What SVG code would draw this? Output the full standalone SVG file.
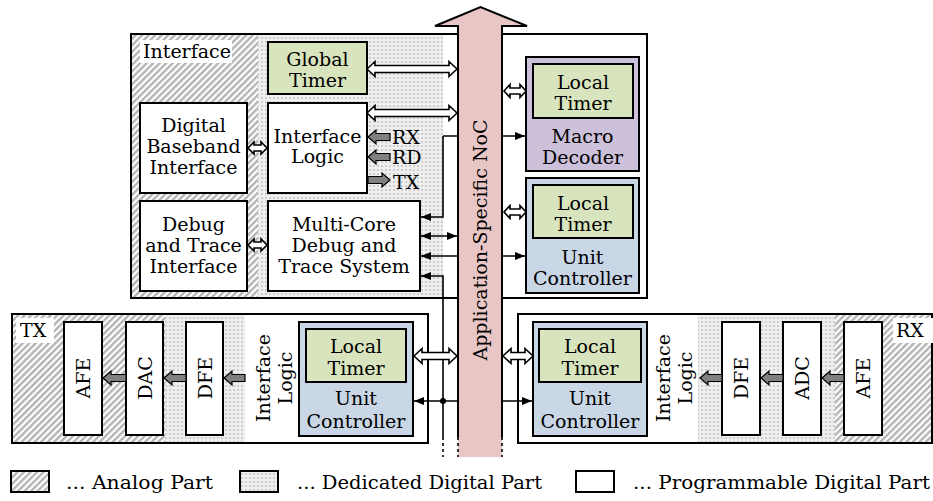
<svg xmlns="http://www.w3.org/2000/svg" width="933" height="501" viewBox="0 0 933 501">
  <style>
    .t { font-family: "DejaVu Serif", "Liberation Serif", serif; font-size: 19px; fill: #000; }
    .c { text-anchor: middle; }
    .box { stroke: #000; stroke-width: 2; }
    .white { fill: #fff; }
    .green { fill: #d7e4bd; }
    .violet { fill: #ccc0da; }
    .blue { fill: #c8d6e6; }
    .hatch { fill: url(#hatch); }
    .dots { fill: url(#dots); }
    .wire { fill: none; stroke: #000; stroke-width: 1.6; }
    .hollow { fill: #fff; stroke: #000; stroke-width: 1.6; stroke-linejoin: miter; }
    .grey { fill: #808080; stroke: #000; stroke-width: 1.2; }
    .dash { fill: none; stroke: #000; stroke-width: 1.6; stroke-dasharray: 3 3; }
  </style>
  <defs>
    <!-- analog part: diagonal grey stripes -->
    <pattern id="hatch" width="4.6" height="4.6" patternUnits="userSpaceOnUse" patternTransform="rotate(45)">
      <rect width="4.6" height="4.6" fill="#fff"/>
      <rect width="2.4" height="4.6" fill="#b4b4b4"/>
    </pattern>
    <!-- dedicated digital part: fine dot grid -->
    <pattern id="dots" width="4" height="4" patternUnits="userSpaceOnUse">
      <rect width="4" height="4" fill="#efefef"/>
      <circle cx="2" cy="2" r="1.1" fill="#c6c6c6"/>
    </pattern>
    <marker id="ah" viewBox="0 0 10 8" refX="10" refY="4" markerWidth="10" markerHeight="8" markerUnits="userSpaceOnUse" orient="auto-start-reverse">
      <path d="M0,0 L10,4 L0,8 Z" fill="#000"/>
    </marker>
  </defs>

  <rect width="933" height="501" fill="#fff"/>

  <!-- Interface block (spans behind the NoC) -->
  <g id="interface">
    <rect x="131" y="34" width="516" height="264" class="white"/>
    <rect x="132" y="35" width="126" height="262" class="hatch"/>
    <rect x="258" y="35" width="185" height="262" class="dots"/>
    <rect x="131" y="34" width="516" height="264" fill="none" class="box"/>
    <rect x="140" y="40" width="92" height="23" class="white"/>
    <text x="143" y="58" class="t">Interface</text>
  </g>

  <g id="global-timer">
    <rect x="268" y="42" width="99" height="52" class="green box"/>
    <text x="317.5" y="66" class="t c">Global</text>
    <text x="317.5" y="87" class="t c">Timer</text>
  </g>

  <g id="interface-logic">
    <rect x="268" y="103" width="99" height="90" class="white box"/>
    <text x="317.5" y="143" class="t c">Interface</text>
    <text x="317.5" y="163" class="t c">Logic</text>
  </g>

  <g id="digital-baseband-interface">
    <rect x="140" y="103" width="107" height="90" class="white box"/>
    <text x="193.5" y="132" class="t c">Digital</text>
    <text x="193.5" y="153" class="t c">Baseband</text>
    <text x="193.5" y="174" class="t c">Interface</text>
  </g>

  <g id="debug-trace-interface">
    <rect x="140" y="201" width="107" height="90" class="white box"/>
    <text x="193.5" y="231" class="t c">Debug</text>
    <text x="193.5" y="252" class="t c">and Trace</text>
    <text x="193.5" y="273" class="t c">Interface</text>
  </g>

  <g id="debug-trace-system">
    <rect x="268" y="201" width="152" height="90" class="white box"/>
    <text x="344" y="231" class="t c">Multi-Core</text>
    <text x="344" y="252" class="t c">Debug and</text>
    <text x="344" y="273" class="t c">Trace System</text>
  </g>

  <g id="macro-decoder">
    <rect x="526" y="57" width="113" height="114" class="violet box"/>
    <rect x="533" y="64" width="100" height="54" class="green box"/>
    <text x="583" y="89" class="t c">Local</text>
    <text x="583" y="110" class="t c">Timer</text>
    <text x="582.5" y="143" class="t c">Macro</text>
    <text x="582.5" y="164" class="t c">Decoder</text>
  </g>

  <g id="unit-controller-top">
    <rect x="526" y="178" width="113" height="115" class="blue box"/>
    <rect x="533" y="185" width="100" height="53" class="green box"/>
    <text x="583" y="210" class="t c">Local</text>
    <text x="583" y="231" class="t c">Timer</text>
    <text x="582.5" y="264" class="t c">Unit</text>
    <text x="582.5" y="285" class="t c">Controller</text>
  </g>

  <!-- TX chain -->
  <g id="tx">
    <rect x="12" y="314" width="416" height="129" class="white"/>
    <rect x="13" y="315" width="152" height="127" class="hatch"/>
    <rect x="165" y="315" width="80" height="127" class="dots"/>
    <rect x="12" y="314" width="416" height="129" fill="none" class="box"/>
    <rect x="16" y="318" width="38" height="25" class="white"/>
    <text x="20" y="337" class="t">TX</text>
    <text transform="translate(270,378) rotate(-90)" class="t c">Interface</text>
    <text transform="translate(292,378) rotate(-90)" class="t c">Logic</text>
  </g>
  <g id="tx-afe">
    <rect x="64" y="322" width="38" height="113" class="white box"/>
    <text transform="translate(90,378) rotate(-90)" class="t c">AFE</text>
  </g>
  <g id="tx-dac">
    <rect x="126" y="322" width="37" height="113" class="white box"/>
    <text transform="translate(151.5,378) rotate(-90)" class="t c">DAC</text>
  </g>
  <g id="tx-dfe">
    <rect x="186" y="322" width="37" height="113" class="white box"/>
    <text transform="translate(211.5,378) rotate(-90)" class="t c">DFE</text>
  </g>
  <g id="tx-unit-controller">
    <rect x="299" y="322" width="114" height="114" class="blue box"/>
    <rect x="306" y="329" width="100" height="53" class="green box"/>
    <text x="356" y="353" class="t c">Local</text>
    <text x="356" y="375" class="t c">Timer</text>
    <text x="356" y="405" class="t c">Unit</text>
    <text x="356" y="428" class="t c">Controller</text>
  </g>

  <!-- RX chain -->
  <g id="rx">
    <rect x="518" y="314" width="414" height="129" class="white"/>
    <rect x="698" y="315" width="137" height="127" class="dots"/>
    <rect x="835" y="315" width="97" height="127" class="hatch"/>
    <rect x="518" y="314" width="414" height="129" fill="none" class="box"/>
    <rect x="893" y="318" width="40" height="25" class="white"/>
    <text x="896" y="337" class="t">RX</text>
    <text transform="translate(670,378) rotate(-90)" class="t c">Interface</text>
    <text transform="translate(692,378) rotate(-90)" class="t c">Logic</text>
  </g>
  <g id="rx-dfe">
    <rect x="722" y="322" width="38" height="113" class="white box"/>
    <text transform="translate(748,378) rotate(-90)" class="t c">DFE</text>
  </g>
  <g id="rx-adc">
    <rect x="783" y="322" width="38" height="113" class="white box"/>
    <text transform="translate(809,378) rotate(-90)" class="t c">ADC</text>
  </g>
  <g id="rx-afe">
    <rect x="844" y="322" width="38" height="113" class="white box"/>
    <text transform="translate(870,378) rotate(-90)" class="t c">AFE</text>
  </g>
  <g id="rx-unit-controller">
    <rect x="533" y="322" width="114" height="114" class="blue box"/>
    <rect x="539" y="329" width="102" height="53" class="green box"/>
    <text x="590" y="353" class="t c">Local</text>
    <text x="590" y="375" class="t c">Timer</text>
    <text x="590" y="405" class="t c">Unit</text>
    <text x="590" y="428" class="t c">Controller</text>
  </g>

  <!-- connectors -->
  <g id="connectors">
    <!-- thin control/trace wires -->
    <path class="wire" d="M443,136 H525" marker-end="url(#ah)"/>
    <path class="wire" d="M443,136 V217 H421" marker-end="url(#ah)"/>
    <path class="wire" d="M421,236 H457" marker-start="url(#ah)" marker-end="url(#ah)"/>
    <path class="wire" d="M421,256 H525" marker-start="url(#ah)" marker-end="url(#ah)"/>
    <path class="wire" d="M443,437 V276 H421" marker-end="url(#ah)"/>
    <path class="dash" d="M443,437 V457"/>
    <path class="wire" d="M414,401 H532" marker-start="url(#ah)" marker-end="url(#ah)"/>
    <circle cx="443" cy="401" r="3" fill="#000"/>

    <!-- bus links (hollow double arrows) -->
    <polygon class="hollow" points="367,69 375,61.5 375,65.5 449,65.5 449,61.5 457,69 449,76.5 449,72.5 375,72.5 375,76.5"/>
    <polygon class="hollow" points="367,113 375,105.5 375,109.5 449,109.5 449,105.5 457,113 449,120.5 449,116.5 375,116.5 375,120.5"/>
    <polygon class="hollow" points="248,148 254,142 254,145 261,145 261,142 267,148 261,154 261,151 254,151 254,154"/>
    <polygon class="hollow" points="248,245 254,239 254,242 261,242 261,239 267,245 261,251 261,248 254,248 254,251"/>
    <polygon class="hollow" points="504,91 510,84.5 510,88 520,88 520,84.5 526,91 520,97.5 520,94 510,94 510,97.5"/>
    <polygon class="hollow" points="504,212 510,205.5 510,209 520,209 520,205.5 526,212 520,218.5 520,215 510,215 510,218.5"/>
    <polygon class="hollow" points="414,356 422,348.5 422,352.5 449,352.5 449,348.5 457,356 449,363.5 449,359.5 422,359.5 422,363.5"/>
    <polygon class="hollow" points="503,356 511,348.5 511,352.5 525,352.5 525,348.5 533,356 525,363.5 525,359.5 511,359.5 511,363.5"/>

    <!-- external signal arrows -->
    <polygon class="grey" points="368,137 376,130 376,133.5 390,133.5 390,140.5 376,140.5 376,144"/>
    <polygon class="grey" points="368,157 376,150 376,153.5 390,153.5 390,160.5 376,160.5 376,164"/>
    <polygon class="grey" points="390,180 382,173 382,176.5 368,176.5 368,183.5 382,183.5 382,187"/>

    <!-- sample-stream arrows -->
    <polygon class="grey" points="103,378 111,371 111,374.5 126,374.5 126,381.5 111,381.5 111,385"/>
    <polygon class="grey" points="164,378 172,371 172,374.5 186,374.5 186,381.5 172,381.5 172,385"/>
    <polygon class="grey" points="224,378 232,371 232,374.5 245,374.5 245,381.5 232,381.5 232,385"/>
    <polygon class="grey" points="700,378 708,371 708,374.5 722,374.5 722,381.5 708,381.5 708,385"/>
    <polygon class="grey" points="761,378 769,371 769,374.5 783,374.5 783,381.5 769,381.5 769,385"/>
    <polygon class="grey" points="822,378 830,371 830,374.5 844,374.5 844,381.5 830,381.5 830,385"/>
  </g>
  <g id="signal-labels">
    <text x="392" y="144" class="t">RX</text>
    <text x="392" y="164" class="t">RD</text>
    <text x="393" y="189" class="t">TX</text>
  </g>

  <!-- Application-specific NoC -->
  <g id="noc">
    <path d="M458,457 V26 H435 L480.5,7 L527,26 H502 V457 Z" fill="#e8c6c5"/>
    <path d="M458,437 V26 H435 L480.5,7 L527,26 H502 V437" fill="none" stroke="#000" stroke-width="2" stroke-linejoin="miter"/>
    <path class="dash" d="M458,437 V457 M502,437 V457"/>
    <text transform="translate(487,240) rotate(-90)" class="t c">Application-Specific NoC</text>
  </g>

  <!-- legend -->
  <g id="legend">
    <rect x="11" y="471" width="38" height="21" class="hatch box"/>
    <text x="66" y="489" class="t" textLength="147" lengthAdjust="spacingAndGlyphs">... Analog Part</text>
    <rect x="240" y="471" width="38" height="21" class="dots box"/>
    <text x="297" y="489" class="t" textLength="245" lengthAdjust="spacingAndGlyphs">... Dedicated Digital Part</text>
    <rect x="576" y="471" width="38" height="21" class="white box"/>
    <text x="633" y="489" class="t" textLength="297" lengthAdjust="spacingAndGlyphs">... Programmable Digital Part</text>
  </g>
</svg>
